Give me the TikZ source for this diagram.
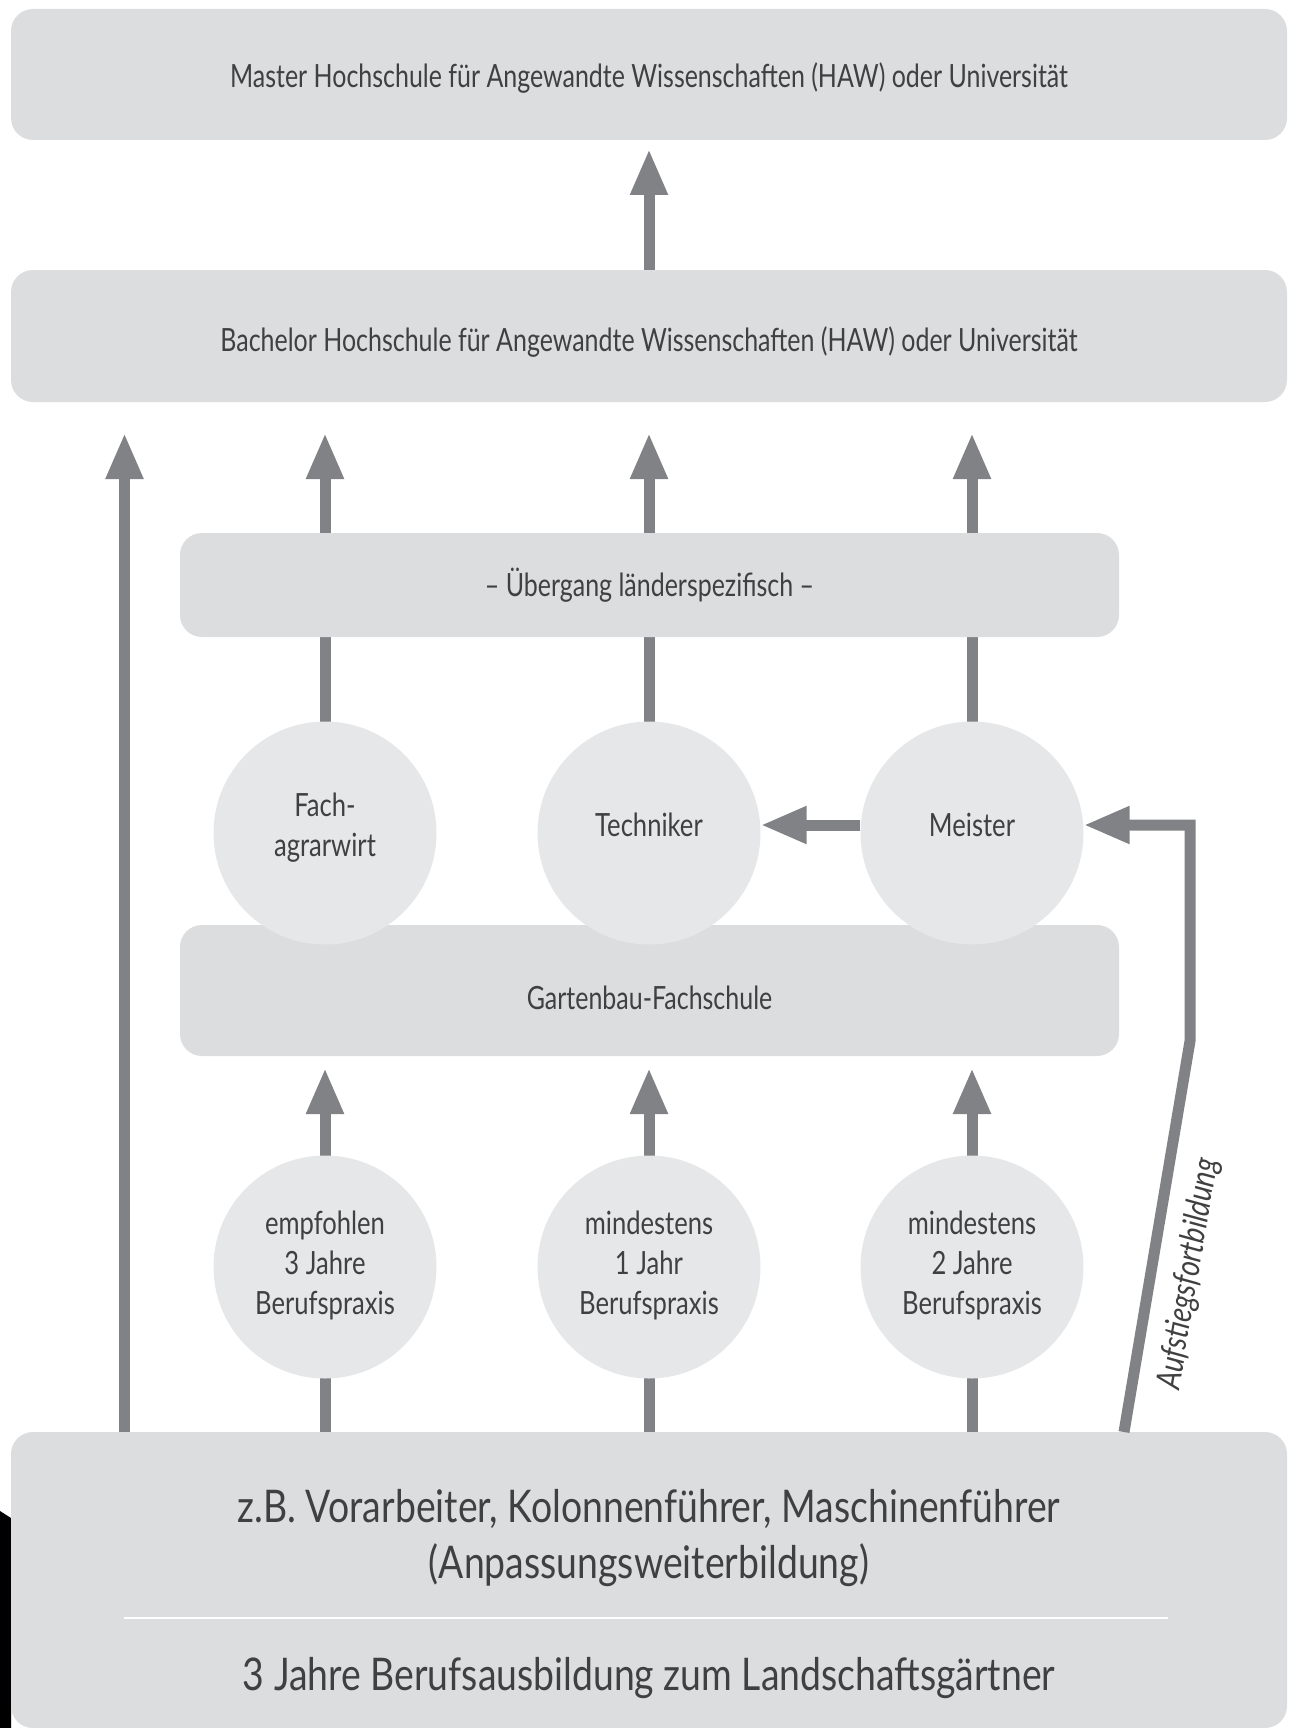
\documentclass[tikz,border=0pt]{standalone}
\usepackage{fontspec}
\setmainfont{Lato}[FakeStretch=0.80]
\newfontfamily\boxfont{Lato}[FakeStretch=0.78]
\newfontfamily\bigfont{Lato}[FakeStretch=0.83]
\newfontfamily\sidefont{Lato}[FakeStretch=0.82]
\usetikzlibrary{arrows.meta}
\definecolor{boxfill}{RGB}{220,221,223}
\definecolor{circfill}{RGB}{230,231,232}
\definecolor{arrowgray}{RGB}{128,130,133}
\definecolor{txtgray}{RGB}{64,64,65}
\tikzset{
  box/.style={fill=boxfill, rounded corners=22pt, inner sep=0pt, text=txtgray, font=\boxfont\fontsize{32}{40}\selectfont, text depth=0pt},
  circ/.style={circle, fill=circfill, minimum size=223pt, inner sep=0pt, align=center, text=txtgray, font=\fontsize{32}{40}\selectfont},
  bigtxt/.style={inner sep=0pt, text=txtgray, align=center, font=\bigfont\fontsize{45}{55.6}\selectfont, text depth=0pt},
  conn/.style={draw=arrowgray, line width=11pt, -{Triangle[length=46pt,width=35pt]}},
}
\begin{document}
\begin{tikzpicture}[x=1pt,y=-1pt]
\useasboundingbox (0,0) rectangle (1288,1728);
\fill[black] (0,1511) -- (11,1518) -- (11,1728) -- (0,1728) -- cycle;
% boxes
\node[box, minimum width=1276pt, minimum height=131pt, text height=26pt] (master) at (649,74.5) {Master Hochschule für Angewandte Wissenschaften (HAW) oder Universität};
\node[box, minimum width=1276pt, minimum height=132pt, text height=30pt] (bach) at (649,336) {Bachelor Hochschule für Angewandte Wissenschaften (HAW) oder Universität};
\node[box, minimum width=1276pt, minimum height=296pt] (base) at (649,1580) {};
\node[box, minimum width=939pt, minimum height=131pt, text height=38pt] (garten) at (649.5,990.5) {Gartenbau-Fachschule};
% bottom box texts
\node[bigtxt, text height=87.6pt] (zb) at (649,1534.5) {z.B. Vorarbeiter, Kolonnenführer, Maschinenführer\\(Anpassungsweiterbildung)};
\node[bigtxt, text height=32pt] (ausb) at (649,1674.7) {3 Jahre Berufsausbildung zum Landschaftsgärtner};
\coordinate (sepL) at (124,1618);
\coordinate (sepR) at (1168,1618);
\draw[white, line width=2.2pt] (sepL) -- (sepR);
% circle positions
\coordinate (c1) at (325,833);
\coordinate (c2) at (649,833);
\coordinate (c3) at (972,833);
\coordinate (d1) at (325,1267);
\coordinate (d2) at (649,1267);
\coordinate (d3) at (972,1267);
% arrows
\draw[conn, shorten >=1pt] (bach.north) -- (master.south |- 0,148);
\draw[conn] (base.north -| 124.5,0) -- (124.5,433);
\draw[conn] (c1) -- (c1 |- 0,433);
\draw[conn] (c2) -- (c2 |- 0,433);
\draw[conn] (c3) -- (c3 |- 0,433);
\draw[conn] (d1 |- base.north) -- (d1 |- 0,1068);
\draw[conn] (d2 |- base.north) -- (d2 |- 0,1068);
\draw[conn] (d3 |- base.north) -- (d3 |- 0,1068);
% circles
\node[circ, text height=63pt, text depth=17pt] (fach) at (c1) {Fach-\\agrarwirt};
\node[circ, text height=23pt, text depth=17pt] (tech) at (c2) {Techniker};
\node[circ, text height=23pt, text depth=17pt] (meis) at (c3) {Meister};
\node[circ, text height=103pt, text depth=8pt] (emp) at (d1) {empfohlen\\3 Jahre\\Berufspraxis};
\node[circ, text height=103pt, text depth=8pt] (min1) at (d2) {mindestens\\1 Jahr\\Berufspraxis};
\node[circ, text height=103pt, text depth=8pt] (min2) at (d3) {mindestens\\2 Jahre\\Berufspraxis};
\node[box, minimum width=939pt, minimum height=104pt, text height=23pt] (ueber) at (649.5,585) {– Übergang länderspezifisch –};
% horizontal arrows
\draw[conn] (meis.west |- 0,825) -- (tech.east |- 0,825);
\coordinate (a0) at (1124,1432);
\coordinate (a1) at (1190,1041);
\coordinate (a2) at (1190,825);
\draw[conn, line join=miter] (a0) -- node[sloped, below=17pt, pos=0.42, inner sep=0pt, text=txtgray, font=\sidefont\fontsize{34}{40}\selectfont\itshape] (aufl) {Aufstiegsfortbildung} (a1) -- (a2) -- (meis.east |- a2);
\end{tikzpicture}
\end{document}
